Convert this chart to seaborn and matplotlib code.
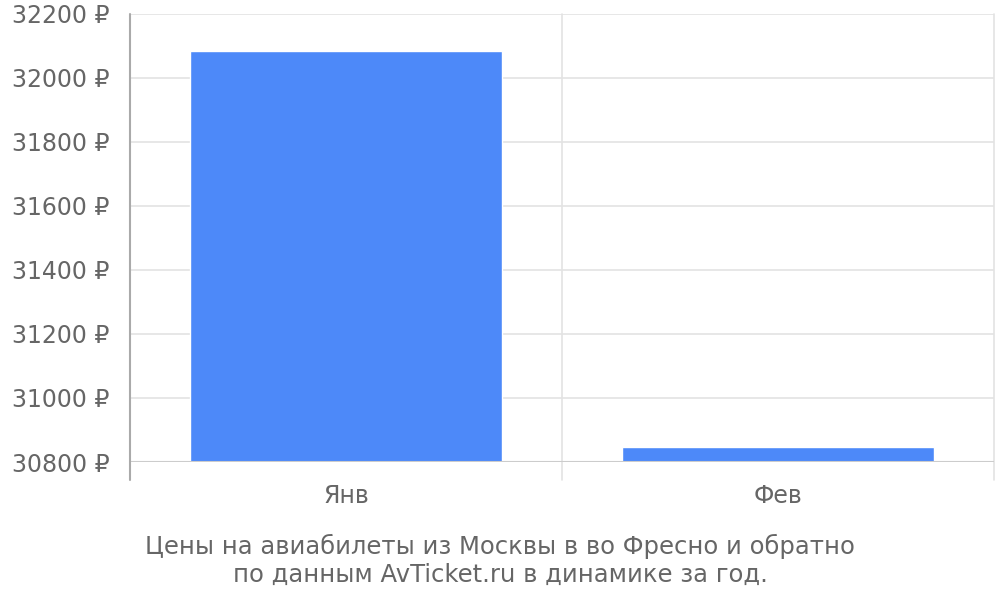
import matplotlib
matplotlib.use("Agg")
import matplotlib.pyplot as plt
import seaborn as sns
import pandas as pd

# data
months = ["Янв", "Фев"]
prices = [32083, 30848]
y_ticks = [30800, 31000, 31200, 31400, 31600, 31800, 32000, 32200]
caption = ("Цены на авиабилеты из Москвы в во Фресно и обратно\n"
           "по данным AvTicket.ru в динамике за год.")

df = pd.DataFrame({"month": months, "price": prices})

sns.set_style("white")
plt.rcParams['font.family'] = ['DejaVu Sans']

fig = plt.figure(figsize=(10, 6), dpi=100)
ax = fig.add_axes([0.13, 0.23, 0.864, 0.7467])

base = y_ticks[0]
sns.barplot(data=df, x="month", y=df["price"] - base, color="#4d89f9",
            saturation=1, width=0.72, ax=ax, bottom=base)

ax.set_ylim(base, y_ticks[-1])
ax.set_xlim(-0.5, 1.5)
ax.set_yticks(y_ticks)
ax.set_yticklabels([f"{v} ₽" for v in y_ticks])

# horizontal grid lines
for v in y_ticks[1:]:
    ax.axhline(v, color="#e3e3e3", lw=1.2, zorder=0)
ax.axhline(base, color="#cccccc", lw=1.5, zorder=3)

# vertical separators reaching below the baseline
for xv in [0.5, 1.5]:
    ax.plot([xv, xv], [-0.04, 1], transform=ax.get_xaxis_transform(),
            color="#e3e3e3", lw=1.2, clip_on=False, zorder=0)
ax.plot([-0.5, -0.5], [-0.04, 1], transform=ax.get_xaxis_transform(),
        color="#aaaaaa", lw=1.5, clip_on=False, zorder=4)

for s in ax.spines.values():
    s.set_visible(False)

ax.tick_params(axis="y", length=14, width=1.2, color="#e3e3e3", labelsize=17,
               labelcolor="#666666", pad=1)
ax.tick_params(axis="x", length=0, labelsize=17, labelcolor="#666666", pad=16)
ax.set_xlabel("")
ax.set_ylabel("")

fig.text(0.5, 0.022, caption, ha="center", va="bottom", fontsize=17.5,
         color="#666666", linespacing=1.2)

fig.savefig("out.png", dpi=100)
